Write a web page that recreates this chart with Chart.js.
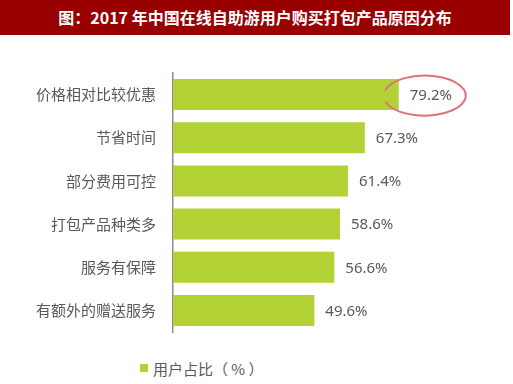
<!DOCTYPE html>
<html>
<head>
<meta charset="utf-8">
<script src="https://cdn.jsdelivr.net/npm/chart.js@4"></script>
<style>
  body { margin: 0; background: #fff; width: 513px; height: 384px; overflow: hidden; position: relative; }
  .banner {
    position: absolute; left: 0; top: 0; width: 510px; height: 35px;
    background: #990000; color: #fff;
    font: bold 16px "Noto Sans CJK SC", sans-serif;
    line-height: 35px; text-align: center;
  }
  .wrap { position: absolute; left: 0; top: 35px; width: 513px; height: 315px; }
  .legend {
    position: absolute; left: 140px; top: 358px;
    font: 15px "Noto Sans CJK SC", sans-serif; color: #595959;
  }
  .legend i {
    display: inline-block; width: 8px; height: 8px; background: #b2d235;
    margin-right: 5px; vertical-align: 3px;
  }
</style>
</head>
<body>
<div class="banner">图：2017 年中国在线自助游用户购买打包产品原因分布</div>
<div class="wrap"><canvas id="grafico" width="513" height="315"></canvas></div>
<div class="legend"><i></i>用户占比（ % ）</div>
<script>
const categorias = ["价格相对比较优惠", "节省时间", "部分费用可控", "打包产品种类多", "服务有保障", "有额外的赠送服务"];
const valores = [79.2, 67.3, 61.4, 58.6, 56.6, 49.6];
const nomeSerie = "用户占比（%）";

// rotulos de valor no fim de cada barra + circulo vermelho no primeiro
const rotulos = {
    id: "rotulos",
    afterDatasetsDraw(chart) {
        const ctx = chart.ctx;
        const meta = chart.getDatasetMeta(0);
        ctx.save();
        ctx.font = '15px "Noto Sans", sans-serif';
        ctx.fillStyle = "#595959";
        ctx.textBaseline = "middle";
        meta.data.forEach(function(bar, i) {
            ctx.fillText(valores[i].toFixed(1) + "%", bar.x + 11, bar.y + 1);
        });
        const b = meta.data[0];
        ctx.strokeStyle = "#e0707c";
        ctx.lineWidth = 2;
        ctx.beginPath();
        ctx.ellipse(b.x + 26, b.y + 1, 41, 20, 0, Math.PI * 1.08, Math.PI * 0.9 + Math.PI * 2);
        ctx.stroke();
        ctx.restore();
    }
};

const ctx = document.getElementById("grafico").getContext("2d");
new Chart(ctx, {
    type: "bar",
    data: {
        labels: categorias,
        datasets: [{
            label: nomeSerie,
            data: valores,
            backgroundColor: "#b2d235",
            barPercentage: 0.8,
            categoryPercentage: 0.9
        }]
    },
    options: {
        indexAxis: "y",
        responsive: false,
        animation: false,
        layout: { padding: { top: 38, bottom: 12, right: 55, left: 0 } },
        scales: {
            x: { display: false, min: 0, max: 100 },
            y: {
                grid: { display: false },
                border: { display: true, color: "#8c8c8c", width: 1.5 },
                ticks: { color: "#595959", padding: 9, font: { size: 15, family: '"Noto Sans CJK SC", sans-serif' } },
                afterFit(scale) { scale.width = 173; }
            }
        },
        plugins: {
            legend: { display: false },
            tooltip: { enabled: false }
        }
    },
    plugins: [rotulos]
});
</script>
</body>
</html>
